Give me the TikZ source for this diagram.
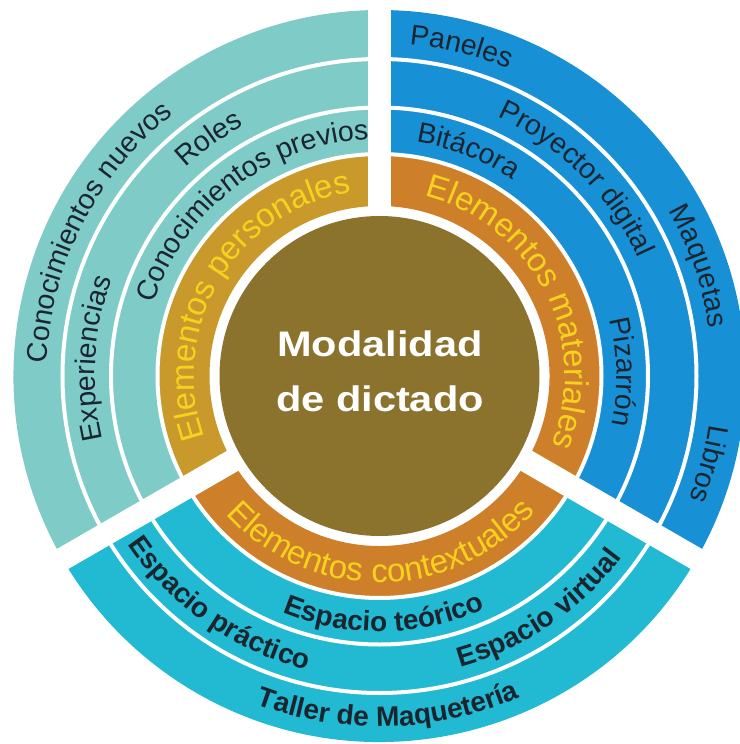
\documentclass[tikz,border=0pt]{standalone}
\usepackage{fontspec}
\setmainfont{Liberation Sans}
\usetikzlibrary{decorations.text}

\definecolor{personal}{HTML}{7FCBC8}
\definecolor{material}{HTML}{1890D6}
\definecolor{context}{HTML}{21BAD2}
\definecolor{personalring}{HTML}{C9992C}
\definecolor{elementring}{HTML}{CD8029}
\definecolor{core}{HTML}{8B732E}
\definecolor{ink}{HTML}{1A2530}
\definecolor{elemink}{HTML}{F6D21E}

\newcommand{\ItemFont}{\fontsize{28.5}{30}\selectfont\color{ink}}
\newcommand{\SpaceFont}{\bfseries\fontsize{28}{30}\selectfont\color{ink}}
\newcommand{\ElemFont}{\fontsize{33}{35}\selectfont\color{elemink}}

% annulus sector: colour, start, end, inner radius, outer radius
\newcommand{\Sector}[5]{%
  \fill[#1] (#2:#4pt) arc[start angle=#2, end angle=#3, radius=#4pt]
    -- (#3:#5pt) arc[start angle=#3, end angle=#2, radius=#5pt] -- cycle;}
% text on an arc, read clockwise (tops outward): radius, middle angle, font, text
\newcommand{\OutLabel}[4]{%
  \path[decorate, decoration={text along path, text align=center, text={|#3|#4}}]
    (#2+60:#1pt) arc[start angle=#2+60, end angle=#2-60, radius=#1pt];}
% text on an arc, read counter-clockwise (tops inward)
\newcommand{\InLabel}[4]{%
  \path[decorate, decoration={text along path, text align=center, text={|#3|#4}}]
    (#2-60:#1pt) arc[start angle=#2-60, end angle=#2+60, radius=#1pt];}

\tikzset{
    sep/.style={draw=white, line width=4pt},
    gap/.style={draw=white, line width=23pt},
    title/.style={text=white, align=center, inner sep=0pt,
      font=\bfseries\fontsize{35.5}{54.5}\selectfont},
}

\begin{document}
\begin{tikzpicture}
    \useasboundingbox (-379.5pt,-368pt) rectangle (359.5pt,376pt);

    % outer bands
    \Sector{personal}{90}{210}{222}{366}
    \Sector{material}{-30}{90}{222}{366}
    \Sector{context}{210}{330}{222}{366}
    % elementos ring
    \Sector{personalring}{90}{210}{170}{222}
    \Sector{elementring}{-30}{90}{170}{222}
    \Sector{elementring}{210}{330}{170}{222}

    \foreach \r in {222,268.5,317}
      \draw[sep] (0,0) circle[radius=\r pt];
    \foreach \a in {90,210,330}
      \draw[gap] (\a:165pt) -- (\a:400pt);

    \node[circle, fill=core, minimum size=320pt, inner sep=0pt] (core) at (0,0) {};
    \node[title, xscale=1.17, transform shape] (modalidad) at (0.5pt,4.5pt) {Modalidad\\de dictado};

    % elementos personales
    \OutLabel{333}{153}{\ItemFont}{Conocimientos nuevos}
    \OutLabel{284.5}{176.5}{\ItemFont}{Experiencias}
    \OutLabel{284.5}{125.7}{\ItemFont}{Roles}
    \OutLabel{237}{127.4}{\ItemFont}{Conocimientos previos}
    \OutLabel{185.5}{149}{\ElemFont}{Elementos personales}

    % elementos materiales
    \OutLabel{333}{76}{\ItemFont}{Paneles}
    \OutLabel{333}{19}{\ItemFont}{Maquetas}
    \OutLabel{333}{-15}{\ItemFont}{Libros}
    \OutLabel{284.5}{45}{\ItemFont}{Proyector digital}
    \OutLabel{237}{68.5}{\ItemFont}{Bitácora}
    \OutLabel{237}{1}{\ItemFont}{Pizarrón}
    \OutLabel{185.5}{27}{\ElemFont}{Elementos materiales}

    % elementos contextuales
    \InLabel{206.5}{270.5}{\ElemFont}{Elementos contextuales}
    \InLabel{255.5}{271}{\SpaceFont}{Espacio teórico}
    \InLabel{302.5}{235}{\SpaceFont}{Espacio práctico}
    \InLabel{302.5}{304.4}{\SpaceFont}{Espacio virtual}
    \InLabel{350.5}{271.5}{\SpaceFont}{Taller de Maquetería}
\end{tikzpicture}
\end{document}
